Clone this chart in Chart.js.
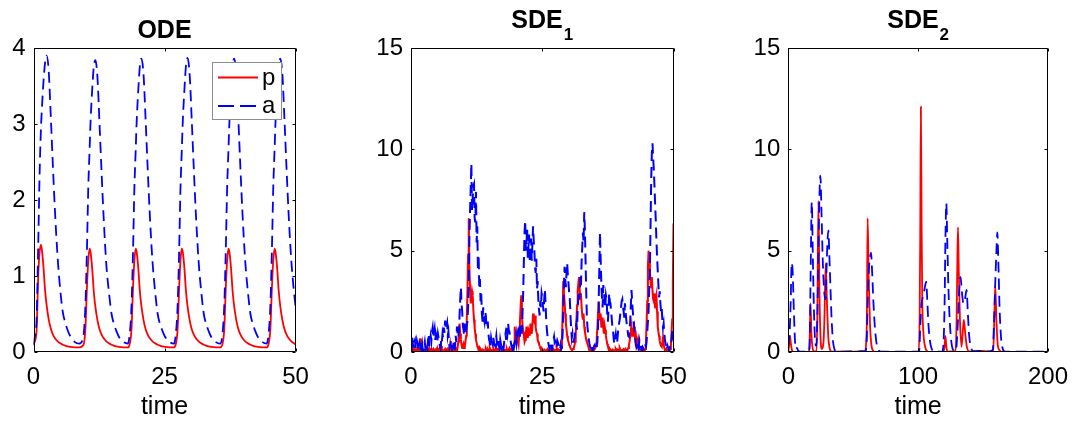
<!DOCTYPE html>
<html>
<head>
<meta charset="utf-8">
<script src="https://cdn.jsdelivr.net/npm/chart.js@4.4.1/dist/chart.umd.min.js"></script>
<style>
  html, body { margin: 0; padding: 0; background: #fff; }
  #wrap { position: relative; width: 1079px; height: 423px; background: #fff; overflow: hidden; }
  #wrap canvas { position: absolute; left: 0; top: 0; }
</style>
</head>
<body>
<div id="wrap">
  <canvas id="c1" width="1079" height="423"></canvas>
  <canvas id="c2" width="1079" height="423"></canvas>
  <canvas id="c3" width="1079" height="423"></canvas>
</div>
<script>
// ---------------- DATA ----------------
// Panel 1: ODE
const odeTime = [
  0, 0.2, 0.6, 0.9, 1.15, 1.4, 1.6, 1.9, 2.2, 2.5, 2.9, 3.3, 3.7, 4.1, 4.6, 5.1, 5.6, 6.0, 6.5, 7.0, 7.9, 8.7,
  9.5, 9.9, 10.2, 10.45, 10.7, 10.9, 11.2, 11.5, 11.8, 12.2, 12.6, 13.0, 13.4, 13.9, 14.4, 14.9, 15.3, 15.8, 16.3, 17.2, 18.0,
  18.3, 18.7, 19.0, 19.25, 19.5, 19.7, 20.0, 20.3, 20.6, 21.0, 21.4, 21.8, 22.2, 22.7, 23.2, 23.7, 24.1, 24.6, 25.1, 26.0, 26.8,
  27.1, 27.5, 27.8, 28.05, 28.3, 28.5, 28.8, 29.1, 29.4, 29.8, 30.2, 30.6, 31.0, 31.5, 32.0, 32.5, 32.9, 33.4, 33.9, 34.8, 35.6,
  36.0, 36.4, 36.7, 36.95, 37.2, 37.4, 37.7, 38.0, 38.3, 38.7, 39.1, 39.5, 39.9, 40.4, 40.9, 41.4, 41.8, 42.3, 42.8, 43.7, 44.5,
  44.8, 45.2, 45.5, 45.75, 46.0, 46.2, 46.5, 46.8, 47.1, 47.5, 47.9, 48.3, 48.7, 49.2, 49.7, 50.0
];
const odeP = [
  0.09, 0.13, 0.3, 1.0, 1.3, 1.41, 1.35, 1.12, 0.82, 0.62, 0.43, 0.31, 0.23, 0.18, 0.14, 0.115, 0.095, 0.085, 0.075, 0.068, 0.062, 0.062,
  0.09, 0.3, 0.85, 1.2, 1.36, 1.31, 1.1, 0.8, 0.6, 0.42, 0.3, 0.23, 0.18, 0.14, 0.115, 0.095, 0.085, 0.075, 0.068, 0.062, 0.062,
  0.09, 0.3, 0.86, 1.2, 1.36, 1.31, 1.1, 0.8, 0.6, 0.42, 0.3, 0.23, 0.18, 0.14, 0.115, 0.095, 0.085, 0.075, 0.068, 0.062, 0.062,
  0.09, 0.3, 0.85, 1.21, 1.36, 1.31, 1.1, 0.8, 0.6, 0.42, 0.3, 0.23, 0.18, 0.14, 0.115, 0.095, 0.085, 0.075, 0.068, 0.062, 0.062,
  0.09, 0.3, 0.85, 1.2, 1.36, 1.31, 1.1, 0.8, 0.6, 0.42, 0.3, 0.23, 0.18, 0.14, 0.115, 0.095, 0.085, 0.075, 0.068, 0.062, 0.062,
  0.09, 0.3, 0.85, 1.2, 1.36, 1.31, 1.1, 0.8, 0.6, 0.42, 0.3, 0.23, 0.18, 0.14, 0.115, 0.1
];
const odeA = [
  0.1, 0.18, 0.45, 1.4, 2.3, 2.9, 3.2, 3.55, 3.8, 3.9, 3.7, 3.1, 2.45, 1.85, 1.25, 0.82, 0.52, 0.4, 0.29, 0.21, 0.13, 0.11,
  0.2, 0.6, 1.35, 2.15, 2.65, 3.05, 3.45, 3.75, 3.84, 3.62, 3.0, 2.35, 1.75, 1.15, 0.78, 0.5, 0.38, 0.28, 0.2, 0.13, 0.11,
  0.2, 0.6, 1.35, 2.15, 2.65, 3.05, 3.45, 3.76, 3.86, 3.65, 3.05, 2.4, 1.8, 1.2, 0.8, 0.5, 0.38, 0.28, 0.2, 0.13, 0.11,
  0.2, 0.6, 1.35, 2.15, 2.65, 3.05, 3.45, 3.77, 3.87, 3.65, 3.05, 2.4, 1.8, 1.2, 0.8, 0.5, 0.38, 0.28, 0.2, 0.13, 0.11,
  0.2, 0.6, 1.35, 2.15, 2.65, 3.05, 3.45, 3.76, 3.86, 3.65, 3.05, 2.4, 1.8, 1.2, 0.8, 0.5, 0.38, 0.28, 0.2, 0.13, 0.11,
  0.2, 0.6, 1.35, 2.15, 2.65, 3.05, 3.45, 3.76, 3.86, 3.65, 3.05, 2.4, 1.8, 1.2, 0.8, 0.6
];

// Panel 2: SDE_1 (sampled every 0.125 time units)
const sde1Time = [
  0, 0.125, 0.25, 0.375, 0.5, 0.625, 0.75, 0.875, 1, 1.125, 1.25, 1.375, 1.5, 1.625, 1.75, 1.875, 2, 2.125, 2.25, 2.375,
  2.5, 2.625, 2.75, 2.875, 3, 3.125, 3.25, 3.375, 3.5, 3.625, 3.75, 3.875, 4, 4.125, 4.25, 4.375, 4.5, 4.625, 4.75, 4.875,
  5, 5.125, 5.25, 5.375, 5.5, 5.625, 5.75, 5.875, 6, 6.125, 6.25, 6.375, 6.5, 6.625, 6.75, 6.875, 7, 7.125, 7.25, 7.375,
  7.5, 7.625, 7.75, 7.875, 8, 8.125, 8.25, 8.375, 8.5, 8.625, 8.75, 8.875, 9, 9.125, 9.25, 9.375, 9.5, 9.625, 9.75, 9.875,
  10, 10.125, 10.25, 10.375, 10.5, 10.625, 10.75, 10.875, 11, 11.125, 11.25, 11.375, 11.5, 11.625, 11.75, 11.875, 12, 12.125, 12.25, 12.375,
  12.5, 12.625, 12.75, 12.875, 13, 13.125, 13.25, 13.375, 13.5, 13.625, 13.75, 13.875, 14, 14.125, 14.25, 14.375, 14.5, 14.625, 14.75, 14.875,
  15, 15.125, 15.25, 15.375, 15.5, 15.625, 15.75, 15.875, 16, 16.125, 16.25, 16.375, 16.5, 16.625, 16.75, 16.875, 17, 17.125, 17.25, 17.375,
  17.5, 17.625, 17.75, 17.875, 18, 18.125, 18.25, 18.375, 18.5, 18.625, 18.75, 18.875, 19, 19.125, 19.25, 19.375, 19.5, 19.625, 19.75, 19.875,
  20, 20.125, 20.25, 20.375, 20.5, 20.625, 20.75, 20.875, 21, 21.125, 21.25, 21.375, 21.5, 21.625, 21.75, 21.875, 22, 22.125, 22.25, 22.375,
  22.5, 22.625, 22.75, 22.875, 23, 23.125, 23.25, 23.375, 23.5, 23.625, 23.75, 23.875, 24, 24.125, 24.25, 24.375, 24.5, 24.625, 24.75, 24.875,
  25, 25.125, 25.25, 25.375, 25.5, 25.625, 25.75, 25.875, 26, 26.125, 26.25, 26.375, 26.5, 26.625, 26.75, 26.875, 27, 27.125, 27.25, 27.375,
  27.5, 27.625, 27.75, 27.875, 28, 28.125, 28.25, 28.375, 28.5, 28.625, 28.75, 28.875, 29, 29.125, 29.25, 29.375, 29.5, 29.625, 29.75, 29.875,
  30, 30.125, 30.25, 30.375, 30.5, 30.625, 30.75, 30.875, 31, 31.125, 31.25, 31.375, 31.5, 31.625, 31.75, 31.875, 32, 32.125, 32.25, 32.375,
  32.5, 32.625, 32.75, 32.875, 33, 33.125, 33.25, 33.375, 33.5, 33.625, 33.75, 33.875, 34, 34.125, 34.25, 34.375, 34.5, 34.625, 34.75, 34.875,
  35, 35.125, 35.25, 35.375, 35.5, 35.625, 35.75, 35.875, 36, 36.125, 36.25, 36.375, 36.5, 36.625, 36.75, 36.875, 37, 37.125, 37.25, 37.375,
  37.5, 37.625, 37.75, 37.875, 38, 38.125, 38.25, 38.375, 38.5, 38.625, 38.75, 38.875, 39, 39.125, 39.25, 39.375, 39.5, 39.625, 39.75, 39.875,
  40, 40.125, 40.25, 40.375, 40.5, 40.625, 40.75, 40.875, 41, 41.125, 41.25, 41.375, 41.5, 41.625, 41.75, 41.875, 42, 42.125, 42.25, 42.375,
  42.5, 42.625, 42.75, 42.875, 43, 43.125, 43.25, 43.375, 43.5, 43.625, 43.75, 43.875, 44, 44.125, 44.25, 44.375, 44.5, 44.625, 44.75, 44.875,
  45, 45.125, 45.25, 45.375, 45.5, 45.625, 45.75, 45.875, 46, 46.125, 46.25, 46.375, 46.5, 46.625, 46.75, 46.875, 47, 47.125, 47.25, 47.375,
  47.5, 47.625, 47.75, 47.875, 48, 48.125, 48.25, 48.375, 48.5, 48.625, 48.75, 48.875, 49, 49.125, 49.25, 49.375, 49.5, 49.625, 49.75, 49.875,
  50
];
const sde1P = [
  0.09, 0.15, 0.3, 0.12, 0.05, 0.1, 0.15, 0.05, 0.05, 0.12, 0.2, 0.1, 0.4, 0.2, 0.67, 0.35, 0.2, 0.08, 0.05, 0.12,
  0.1, 0.04, 0.05, 0.1, 0.15, 0.06, 0.05, 0.12, 0.2, 0.06, 0.1, 0.15, 0.05, 0.1, 0.15, 0.05, 0.1, 0.12, 0.05, 0.1,
  0.2, 0.08, 0.1, 0.14, 0.15, 0.06, 0.3, 0.12, 0.1, 0.05, 0.05, 0.1, 0.15, 0.05, 0.1, 0.15, 0.05, 0.1, 0.2, 0.08,
  0.4, 0.2, 0.1, 0.05, 0.05, 0.12, 0.15, 0.06, 0.1, 0.15, 0.05, 0.2, 0.5, 0.9, 1.4, 0.9, 0.6, 0.35, 0.2, 0.3,
  0.4, 0.2, 0.3, 0.5, 0.8, 1.6, 3.0, 4.8, 6.6, 4.2, 3.1, 2.4, 2.6, 3.0, 2.8, 2.1, 1.6, 1.2, 0.9, 0.6,
  0.45, 0.3, 0.2, 0.12, 0.1, 0.2, 0.15, 0.08, 0.05, 0.12, 0.1, 0.05, 0.05, 0.1, 0.15, 0.06, 0.1, 0.12, 0.05, 0.1,
  0.2, 0.1, 0.1, 0.05, 0.05, 0.12, 0.15, 0.06, 0.1, 0.14, 0.2, 0.08, 0.05, 0.12, 0.1, 0.2, 0.4, 0.25, 0.15, 0.06,
  0.05, 0.1, 0.1, 0.04, 0.05, 0.12, 0.15, 0.05, 0.1, 0.14, 0.2, 0.1, 0.05, 0.15, 0.1, 0.05, 0.05, 0.4, 1.25, 0.8,
  0.5, 0.7, 0.9, 0.6, 0.4, 0.9, 1.5, 2.2, 2.8, 1.9, 1.3, 1.0, 0.8, 0.5, 0.6, 0.9, 1.25, 0.9, 0.7, 1.1,
  1.0, 0.8, 1.4, 1.1, 0.9, 1.3, 1.9, 1.6, 1.5, 1.8, 1.2, 1.0, 0.9, 0.6, 0.5, 0.4, 0.3, 0.2, 0.15, 0.2,
  0.1, 0.05, 0.05, 0.12, 0.1, 0.06, 0.05, 0.1, 0.15, 0.08, 0.05, 0.12, 0.1, 0.04, 0.05, 0.1, 0.1, 0.15, 0.05, 0.1,
  0.1, 0.05, 0.2, 0.1, 0.05, 0.12, 0.1, 0.05, 0.05, 0.2, 0.6, 1.8, 3.5, 2.9, 2.5, 1.9, 1.4, 1.1, 0.8, 0.6,
  0.5, 0.35, 0.3, 0.2, 0.15, 0.1, 0.1, 0.15, 0.2, 0.3, 0.5, 0.9, 1.5, 2.3, 3.0, 3.4, 3.7, 3.1, 2.6, 2.9,
  2.2, 1.8, 1.6, 1.9, 1.25, 1.0, 0.8, 0.6, 0.5, 0.4, 0.3, 0.15, 0.1, 0.06, 0.05, 0.1, 0.1, 0.05, 0.05, 0.1,
  0.1, 0.2, 0.3, 0.7, 1.2, 1.9, 2.5, 2.0, 1.6, 1.9, 1.25, 1.4, 1.7, 1.2, 0.9, 1.3, 1.1, 0.8, 0.6, 0.4,
  0.3, 0.15, 0.2, 0.1, 0.1, 0.05, 0.05, 0.12, 0.1, 0.05, 0.05, 0.1, 0.15, 0.08, 0.05, 0.12, 0.1, 0.06, 0.2, 0.12,
  0.1, 0.05, 0.05, 0.12, 0.15, 0.06, 0.1, 0.15, 0.05, 0.1, 0.1, 0.2, 0.3, 0.5, 0.8, 1.1, 1.3, 0.8, 0.9, 1.1,
  1.25, 0.8, 0.5, 0.7, 0.3, 0.4, 0.6, 0.35, 0.2, 0.12, 0.1, 0.05, 0.05, 0.1, 0.1, 0.04, 0.05, 0.15, 0.5, 1.4,
  2.5, 4.2, 5.0, 4.4, 4.0, 3.5, 3.2, 3.7, 3.0, 2.6, 2.5, 2.9, 2.2, 2.6, 2.8, 2.0, 1.25, 1.0, 0.8, 0.55,
  0.4, 0.3, 0.26, 0.45, 0.7, 0.4, 0.2, 0.1, 0.1, 0.15, 0.05, 0.1, 0.1, 0.05, 0.05, 0.15, 0.3, 0.9, 1.6, 3.5,
  6.35
];
const sde1A = [
  0.3, 0.05, 0.7, 0.4, 0.2, 0.5, 0.6, 0.25, 0.15, 0.55, 0.4, 0.1, 0.1, 0.45, 0.35, 0.05, 0.2, 0.4, 0.05, 0.15,
  0.3, 0.5, 0.15, 0.3, 0.4, 0.2, 0.6, 0.9, 0.3, 0.55, 0.8, 0.55, 1.0, 1.2, 0.7, 0.95, 1.15, 0.6, 0.9, 0.75,
  0.5, 0.9, 0.7, 0.4, 0.35, 0.2, 0.6, 0.45, 0.9, 0.7, 1.2, 0.95, 1.55, 1.1, 1.3, 1.45, 0.8, 1.0, 0.5, 0.2,
  0.3, 0.6, 0.45, 0.15, 0.2, 0.5, 0.35, 0.1, 0.8, 0.5, 1.25, 0.9, 0.7, 1.0, 1.8, 2.6, 3.2, 2.4, 2.0, 1.3,
  1.1, 0.8, 1.4, 1.0, 1.0, 1.3, 1.5, 2.2, 3.5, 5.6, 7.0, 8.1, 9.3, 7.0, 7.6, 8.2, 8.3, 6.6, 6.4, 7.9,
  5.4, 6.2, 4.0, 4.8, 3.2, 3.6, 2.5, 2.9, 1.9, 1.5, 2.2, 1.7, 1.5, 2.0, 1.8, 1.3, 1.2, 1.5, 0.9, 0.6,
  0.5, 0.3, 0.7, 0.5, 0.4, 0.75, 0.6, 0.35, 0.3, 0.55, 0.8, 0.4, 0.5, 0.65, 0.3, 0.15, 0.6, 0.4, 0.2, 0.45,
  0.3, 0.15, 0.5, 0.7, 0.9, 0.6, 1.2, 0.95, 1.4, 1.1, 1.0, 0.7, 0.5, 0.3, 0.2, 0.4, 0.1, 0.25, 0.5, 0.7,
  0.9, 0.4, 0.6, 1.0, 1.1, 0.7, 0.8, 1.3, 1.2, 0.9, 2.0, 3.0, 4.5, 5.9, 6.5, 5.0, 5.4, 6.1, 4.6, 5.2,
  5.8, 4.4, 4.9, 5.6, 4.5, 5.3, 6.2, 5.5, 5.0, 4.2, 3.9, 4.6, 3.1, 3.5, 2.6, 2.1, 1.8, 2.5, 2.2, 2.9,
  2.7, 2.3, 2.0, 2.6, 3.1, 2.4, 1.6, 1.1, 0.8, 0.5, 0.3, 0.15, 0.5, 0.3, 0.2, 0.1, 0.4, 0.6, 0.76, 0.45,
  0.5, 0.2, 0.3, 0.55, 0.45, 0.3, 0.2, 0.1, 0.35, 0.15, 0.25, 0.9, 2.0, 3.3, 4.2, 3.6, 3.2, 3.9, 4.4, 3.8,
  3.4, 2.9, 2.6, 1.8, 1.2, 0.7, 0.9, 0.5, 0.5, 0.7, 0.9, 1.2, 1.4, 1.1, 2.2, 2.7, 3.0, 2.6, 3.7, 3.3,
  4.5, 5.2, 5.9, 5.4, 6.9, 6.0, 4.5, 3.0, 1.7, 1.2, 0.9, 0.6, 0.4, 0.25, 0.2, 0.4, 0.3, 0.1, 0.15, 0.3,
  0.35, 0.1, 0.2, 0.3, 0.5, 1.2, 2.5, 4.2, 5.9, 4.6, 3.4, 2.7, 2.2, 3.3, 3.0, 2.5, 2.2, 2.8, 2.6, 1.9,
  1.5, 2.1, 2.9, 2.5, 2.4, 2.0, 1.6, 1.2, 1.0, 0.6, 0.4, 0.7, 0.9, 0.6, 0.43, 0.8, 1.2, 1.4, 1.6, 1.9,
  2.2, 2.5, 2.6, 2.2, 2.0, 1.7, 2.4, 2.0, 1.6, 1.3, 1.1, 0.8, 0.76, 1.1, 1.5, 2.3, 3.06, 2.5, 2.0, 1.6,
  1.25, 0.9, 0.6, 0.35, 0.26, 0.5, 0.4, 0.2, 0.6, 0.45, 0.3, 0.15, 0.1, 0.25, 0.2, 0.05, 0.15, 0.3, 0.26, 0.5,
  1.0, 1.5, 2.0, 3.1, 4.0, 6.2, 8.5, 9.8, 10.3, 9.6, 9.0, 8.2, 7.3, 6.5, 5.5, 4.7, 4.0, 3.3, 2.7, 3.0,
  2.4, 2.0, 2.2, 1.6, 1.2, 1.4, 0.9, 0.6, 0.4, 0.2, 0.1, 0.3, 0.2, 0.1, 0.15, 0.3, 0.26, 0.6, 1.1, 0.8,
  0.6
];

// Panel 3: SDE_2
const sde2TimeP = [
  0, 0.6, 1.3, 2.0, 2.8, 4,
  15.5, 16.3, 17.1, 17.8, 18.6, 19.5,
  21.5, 22.3, 23.2, 24.0, 24.8, 25.8,
  27.0, 27.8, 28.8, 29.8, 30.8, 32.0, 33.5,
  59.0, 60.0, 60.5, 61.1, 61.9, 62.9, 64.0, 65.5, 67,
  100.5, 101.2, 101.6, 102.1, 102.7, 103.2, 103.9, 104.9, 106.2, 108,
  119.5, 120.3, 121.0, 121.8, 123,
  128.8, 129.6, 130.2, 130.7, 131.3, 132.2, 133.4, 134.5, 135.2, 136.3, 137.5, 139.3,
  145, 150, 155,
  157.8, 158.7, 159.4, 160.2, 161.2, 162.5, 164.5, 200
];
const sde2P = [
  0.05, 0.3, 0.8, 0.4, 0.1, 0.01,
  0.0, 0.2, 2.4, 0.9, 0.25, 0.03,
  0.05, 1.5, 7.45, 3.0, 0.75, 0.15,
  0.4, 1.6, 4.37, 2.4, 0.76, 0.15, 0.02,
  0.02, 0.5, 1.6, 6.6, 3.7, 1.4, 0.35, 0.05, 0,
  0.02, 2.0, 5.5, 12.1, 6.0, 2.5, 1.1, 0.4, 0.1, 0.01,
  0.02, 0.25, 0.8, 0.2, 0.02,
  0.05, 1.5, 4.5, 6.15, 4.0, 1.6, 0.26, 1.1, 1.58, 0.9, 0.26, 0.03,
  0.03, 0.05, 0.02,
  0.1, 1.74, 3.3, 1.74, 0.43, 0.1, 0.01, 0
];
const sde2TimeA = [
  0, 1.0, 1.8, 2.6, 3.4, 4.3, 5.2, 6.0, 6.7, 7.5, 9,
  15.8, 16.5, 17.2, 18.1, 18.9, 19.7, 20.6, 21.6, 22.4, 23.2, 24.0, 24.7, 25.6, 26.5, 27.5, 28.6, 29.5, 30.2, 30.9, 31.6, 32.4, 33.3, 34.3, 35.5, 37,
  59.5, 60.4, 61.2, 62.2, 63.0, 63.7, 64.6, 65.6, 66.6, 67.8, 69.3, 71.5,
  100.8, 101.6, 102.5, 103.5, 104.6, 105.5, 106.2, 107.0, 108.0, 109.2, 110.5, 112.5,
  118.5, 119.6, 120.4, 121.0, 121.7, 122.4, 123.3, 124.3, 125.4, 127,
  129, 129.8, 130.7, 131.6, 132.7, 133.5, 134.5, 135.3, 136.3, 137.3, 138.3, 139.3, 140.6, 142.6,
  146, 150, 154,
  157.5, 158.4, 159.4, 160.3, 161.0, 161.8, 162.7, 163.8, 165.2, 167, 200
];
const sde2A = [
  0.3, 0.9, 2.4, 4.4, 3.9, 2.0, 0.5, 0.15, 0.2, 0.08, 0.02,
  0.02, 0.6, 3.9, 7.4, 4.7, 2.2, 0.6, 0.3, 1.8, 5.0, 7.7, 8.7, 6.8, 4.6, 3.1, 2.6, 4.2, 5.5, 6.0, 4.8, 3.3, 1.7, 0.6, 0.15, 0.02,
  0.05, 0.6, 2.6, 4.2, 4.7, 4.9, 3.9, 2.4, 1.3, 0.5, 0.12, 0.02,
  0.02, 1.2, 2.3, 2.7, 3.0, 3.3, 3.47, 2.6, 1.3, 0.5, 0.15, 0.02,
  0.03, 0.5, 2.5, 5.5, 7.33, 5.6, 3.2, 1.6, 0.6, 0.1,
  0.05, 0.5, 1.6, 3.0, 3.7, 3.1, 2.5, 2.4, 2.7, 3.06, 1.9, 0.8, 0.25, 0.04,
  0.05, 0.06, 0.03,
  0.1, 1.4, 3.4, 5.0, 5.9, 4.4, 2.2, 0.76, 0.15, 0.02, 0.02
];

// axis ranges / ticks / text
const odeXTicks = [0, 25, 50];
const odeYTicks = [0, 1, 2, 3, 4];
const sde1XTicks = [0, 25, 50];
const sdeYTicks = [0, 5, 10, 15];
const sde2XTicks = [0, 100, 200];
const seriesLabels = ['p', 'a'];
const xLabel = 'time';
const panelTitles = [['ODE', ''], ['SDE', '1'], ['SDE', '2']];

// ---------------- RENDERING ----------------
const FONT = "'Liberation Sans', Arial, Helvetica, sans-serif";
const RED = '#ff0000';
const BLUE = '#0000ff';

function pts(xs, ys) { return xs.map((x, i) => ({ x: x, y: ys[i] })); }

const frameTicks = {
  id: 'frameTicks',
  afterDatasetsDraw(chart) {
    const { ctx, chartArea: a, scales } = chart;
    const xs = scales.x, ys = scales.y;
    const L = Math.round(a.left) + 0.5, R = Math.round(a.right) - 0.5;
    const T = Math.round(a.top) + 0.5, B = Math.round(a.bottom) - 0.5;
    const tl = 3;
    ctx.save();
    ctx.strokeStyle = '#000';
    ctx.lineWidth = 1;
    ctx.setLineDash([]);
    ctx.beginPath();
    ctx.rect(L, T, R - L, B - T);
    xs.ticks.forEach(t => {
      const px = Math.round(xs.getPixelForValue(t.value)) + 0.5;
      ctx.moveTo(px, B); ctx.lineTo(px, B - tl);
      ctx.moveTo(px, T); ctx.lineTo(px, T + tl);
    });
    ys.ticks.forEach(t => {
      const py = Math.round(ys.getPixelForValue(t.value)) + 0.5;
      ctx.moveTo(L, py); ctx.lineTo(L + tl, py);
      ctx.moveTo(R, py); ctx.lineTo(R - tl, py);
    });
    ctx.stroke();
    ctx.restore();
  }
};

// Title with optional subscript, centred over the plot area
const panelTitle = {
  id: 'panelTitle',
  afterDraw(chart, args, opts) {
    const { ctx, chartArea: a } = chart;
    const main = opts.text || '', sub = opts.sub || '';
    ctx.save();
    ctx.fillStyle = '#000';
    ctx.textBaseline = 'alphabetic';
    ctx.textAlign = 'left';
    ctx.font = 'bold 25px ' + FONT;
    const wMain = ctx.measureText(main).width;
    ctx.font = 'bold 17px ' + FONT;
    const wSub = sub ? ctx.measureText(sub).width + 1 : 0;
    const cx = (a.left + a.right) / 2;
    const x0 = cx - (wMain + wSub) / 2;
    const base = sub ? 28 : 38;
    ctx.font = 'bold 25px ' + FONT;
    ctx.fillText(main, x0, base);
    if (sub) {
      ctx.font = 'bold 17px ' + FONT;
      ctx.fillText(sub, x0 + wMain + 1, base + 12);
    }
    ctx.restore();
  }
};

const insideLegend = {
  id: 'insideLegend',
  afterDatasetsDraw(chart, args, opts) {
    if (!opts.show) return;
    const ctx = chart.ctx;
    const bx = 212.5, by = 62.5, bw = 69, bh = 57;
    ctx.save();
    ctx.fillStyle = '#fff';
    ctx.fillRect(bx, by, bw, bh);
    ctx.strokeStyle = '#8c8c8c';
    ctx.lineWidth = 1;
    ctx.strokeRect(bx, by, bw, bh);
    ctx.lineWidth = 2;
    ctx.strokeStyle = RED;
    ctx.beginPath(); ctx.moveTo(218, 77.5); ctx.lineTo(258, 77.5); ctx.stroke();
    ctx.strokeStyle = BLUE;
    ctx.setLineDash([16, 6]);
    ctx.beginPath(); ctx.moveTo(218, 106); ctx.lineTo(258, 106); ctx.stroke();
    ctx.setLineDash([]);
    ctx.fillStyle = '#000';
    ctx.font = '24px ' + FONT;
    ctx.textAlign = 'left';
    ctx.textBaseline = 'alphabetic';
    ctx.fillText(seriesLabels[0], 262, 85);
    ctx.fillText(seriesLabels[1], 262, 113);
    ctx.restore();
  }
};

function makeChart(id, cfg) {
  const tickFont = { family: FONT, size: 24 };
  return new Chart(document.getElementById(id), {
    type: 'line',
    data: {
      datasets: [
        { label: seriesLabels[1], data: pts(cfg.ta, cfg.a), borderColor: BLUE, borderWidth: cfg.lw,
          borderDash: [11, 6], pointRadius: 0, fill: false, order: 0,
          cubicInterpolationMode: cfg.smooth ? 'monotone' : 'default', tension: 0 },
        { label: seriesLabels[0], data: pts(cfg.tp, cfg.p), borderColor: RED, borderWidth: cfg.lw,
          pointRadius: 0, fill: false, order: 1,
          cubicInterpolationMode: cfg.smooth ? 'monotone' : 'default', tension: 0 }
      ]
    },
    options: {
      responsive: false,
      animation: false,
      devicePixelRatio: 1,
      events: [],
      layout: { padding: { left: cfg.padLeft, right: cfg.padRight, top: 48, bottom: 0 } },
      plugins: {
        legend: { display: false }, tooltip: { enabled: false }, title: { display: false },
        panelTitle: { text: cfg.title[0], sub: cfg.title[1] },
        insideLegend: { show: cfg.legend }
      },
      scales: {
        x: {
          type: 'linear', position: 'bottom',
          min: cfg.xTicks[0], max: cfg.xTicks[cfg.xTicks.length - 1],
          afterBuildTicks(s) { s.ticks = cfg.xTicks.map(v => ({ value: v })); },
          ticks: { font: tickFont, color: '#000', padding: 11, maxRotation: 0, autoSkip: false,
                   callback: v => String(v) },
          grid: { display: false, drawTicks: false },
          border: { display: false },
          title: { display: true, text: xLabel, color: '#000', font: { family: FONT, size: 25 },
                   padding: { top: 0, bottom: 1 } },
          afterFit(s) { s.height = 71; }
        },
        y: {
          type: 'linear', position: 'left',
          min: cfg.yTicks[0], max: cfg.yTicks[cfg.yTicks.length - 1],
          afterBuildTicks(s) { s.ticks = cfg.yTicks.map(v => ({ value: v })); },
          ticks: { font: tickFont, color: '#000', padding: 8, autoSkip: false, callback: v => String(v) },
          grid: { display: false, drawTicks: false },
          border: { display: false },
          afterFit(s) { s.width = cfg.yWidth; }
        }
      }
    },
    plugins: [frameTicks, insideLegend, panelTitle]
  });
}

makeChart('c1', { tp: odeTime, p: odeP, ta: odeTime, a: odeA, smooth: true, lw: 1.8, title: panelTitles[0],
  xTicks: odeXTicks, yTicks: odeYTicks, padLeft: 0, yWidth: 33.5, padRight: 1079 - 295.5, legend: true });
makeChart('c2', { tp: sde1Time, p: sde1P, ta: sde1Time, a: sde1A, smooth: false, lw: 2.0, title: panelTitles[1],
  xTicks: sde1XTicks, yTicks: sdeYTicks, padLeft: 411 - 45, yWidth: 45, padRight: 1079 - 673.5, legend: false });
makeChart('c3', { tp: sde2TimeP, p: sde2P, ta: sde2TimeA, a: sde2A, smooth: true, lw: 1.8, title: panelTitles[2],
  xTicks: sde2XTicks, yTicks: sdeYTicks, padLeft: 788.3 - 45, yWidth: 45, padRight: 1079 - 1050, legend: false });
</script>
</body>
</html>
